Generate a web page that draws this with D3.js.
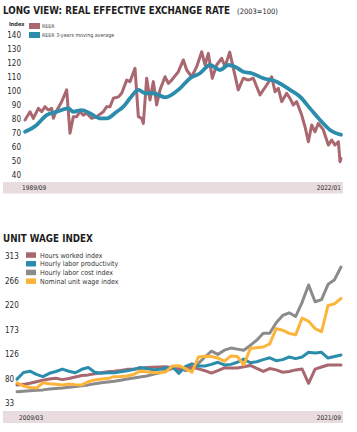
<!DOCTYPE html>
<html><head><meta charset="utf-8">
<script src="https://cdn.jsdelivr.net/npm/d3@7/dist/d3.min.js"></script>
<style>
html,body{margin:0;padding:0;background:#fff;}
svg{display:block;}
text{font-family:"Liberation Sans Narrow","DejaVu Sans Condensed","Roboto",sans-serif;}
</style></head>
<body>
<svg id="c" width="357" height="432"></svg>
<script>
// ---------- Top chart data ----------
const reerYears = [1989.77,1990.28,1990.62,1991.13,1991.47,1991.81,1992.15,1992.49,1992.66,1992.93,1993.51,1994.02,1994.36,1994.70,1995.04,1995.38,1995.72,1996.06,1996.57,1997.08,1997.76,1998.10,1998.44,1998.78,1999.29,1999.63,2000.14,2000.48,2000.99,2001.33,2001.67,2001.84,2002.18,2002.52,2002.86,2003.20,2003.54,2004.05,2004.39,2004.73,2005.41,2005.92,2006.26,2006.77,2007.28,2007.79,2008.13,2008.47,2008.87,2009.32,2009.83,2010.17,2010.65,2011.52,2012.03,2012.54,2013.06,2013.74,2014.42,2014.93,2015.27,2015.61,2015.95,2016.46,2016.80,2017.14,2017.48,2017.99,2018.33,2018.67,2019.01,2019.35,2019.69,2020.20,2020.71,2021.05,2021.39,2021.73,2021.90,2022.00];
const reerValues = [79.5,85.4,80.7,87.8,85.4,89,86.6,87.8,80.7,85.4,92.6,101,70,81.9,81.9,85.4,83,84.3,80.7,81.9,85.4,89,89,95,96,98.6,108,106.9,116.4,81.9,80.7,77,109.3,93.8,106.9,90.2,101,110.4,105.7,108,114,122.4,115.2,110.4,117.6,128.3,118.8,127.1,109.3,118.8,123.6,117.6,128,101,109.3,108,109.3,97.4,104.5,110.4,99.7,102.1,92.6,98.6,95,90.2,92.6,83,74.7,64,75.9,71.1,77.1,72.4,61.6,65.2,61.6,64,49.7,52];
const maYears = [1989.77,1990.96,1991.98,1993.00,1994.19,1994.70,1995.55,1996.40,1997.42,1998.10,1999.12,1999.80,2000.48,2001.33,2002.01,2002.86,2004.05,2005.58,2006.60,2007.62,2008.64,2009.66,2010.51,2011.19,2012.03,2012.89,2014.07,2015.44,2016.80,2017.82,2018.84,2019.86,2020.88,2021.73,2022.00];
const maValues = [71.1,76,83,85.4,87.8,85.4,86.6,84.3,80.7,80.7,85.4,89,95,101,98.6,98.6,95.7,102.1,109.3,112.9,118.8,115.2,118.8,117.6,114,112.9,109.3,106.9,101,96.1,87.8,79.5,72.4,69.5,69];
const topTicks = [40,50,60,70,80,90,100,110,120,130,140];
const topDateLabels = ["1989/09","2022/01"];

// ---------- Bottom chart data ----------
const quarters = d3.range(2009*4, 2021*4+3).map(q => Math.floor(q/4) + "Q" + (q%4+1));
const hoursWorked = [67.8,69,71,74,77,79,80.5,78,80,83,86,87,89,91,93,94,95.5,97.5,98,99,101,101.5,102,102.6,100,97,101,102,98.5,95,90.5,95,100.5,100,100,102.6,105,99.5,93.5,99,96.5,92,93.5,96.5,98,71,98,102,105.8,105.8,105.8];
const laborProductivity = [79,91.5,94,88,83.6,90,93.5,98,94,91,97.6,101,92,90,91,91.2,93,95,97,101,99,96.5,97.6,100,102,90,103,108,104,104,107,111,106,107,111,117,110,112,116,119.5,114,116,121,118,121,130,128.5,130,119,122,124.8];
const laborCost = [55,56,57,58,58.5,60,61,62,63.5,65,66.5,68,70,72,73.5,75,77,79,81,83,85,88,91,95,99,102.6,95,99,109,121,132,126,134,138,136,134,143,153,166,166,186,200,205,198,225,258,226,230,259,268,292];
const unitWage = [72,66,63,62,72,70,69,68,69.5,68.5,68,74,77.5,79,80,83.6,84,85,88,94,93,91.5,91.2,93,104,104.5,99,92,121,122.5,122,119,113,123,122,106,137,138.8,140,146,175,172,166,163,195,189,175,169,219,222,232.6];
const bottomTicks = [33,80,126,173,220,266,313];
const bottomDateLabels = ["2009/03","2021/09"];

const C = {mauve:"#a9676f", teal:"#2b8dab", grey:"#8b8b8b", orange:"#fdb43a", band:"#e9dcdf", text:"#2a2a2a"};

const svg = d3.select("#c");

// fit a text's font size so that its natural width equals w
function fitText(sel, w, base){
  sel.attr("font-size", base);
  const len = sel.node().getComputedTextLength();
  if (len > 0) sel.attr("font-size", (base * w / len).toFixed(2));
  return sel;
}

// ===== TOP CHART =====
fitText(svg.append("text").attr("x",3).attr("y",13.5)
  .attr("font-weight","bold").attr("fill","#1e1e1e")
  .text("LONG VIEW: REAL EFFECTIVE EXCHANGE RATE"), 227, 11);
fitText(svg.append("text").attr("x",237).attr("y",13.5)
  .attr("fill","#1e1e1e")
  .text("(2003=100)"), 41, 9);

const xTop = d3.scaleLinear().domain([1989.667, 2022.0]).range([24, 341]);
const yTop = d3.scaleLinear().domain([40,140]).range([175.3, 35.3]);

// y axis
const gTopAxis = svg.append("g").attr("transform","translate(21,0)")
  .call(d3.axisLeft(yTop).tickValues(topTicks).tickSize(0).tickPadding(0).tickFormat(d3.format("d")));
gTopAxis.select(".domain").remove();
gTopAxis.selectAll("text").attr("font-size",8).attr("fill",C.text)
  .attr("font-family",'"Liberation Sans Narrow","DejaVu Sans Condensed",sans-serif');

// legend top
svg.append("text").attr("x",9).attr("y",26).attr("font-size",5.5).attr("font-weight","bold").attr("fill",C.text).text("Index");
const topLegend = [{c:C.mauve,t:"REER"},{c:C.teal,t:"REER 3-years moving average"}];
topLegend.forEach((d,i)=>{
  svg.append("rect").attr("x",29).attr("y",23+i*9).attr("width",11).attr("height",6).attr("fill",d.c);
  svg.append("text").attr("x",42).attr("y",28+i*9).attr("font-size",5.3).attr("fill","#444").text(d.t);
});

// band
svg.append("rect").attr("x",3).attr("y",182).attr("width",340).attr("height",11.5).attr("fill",C.band);
svg.append("text").attr("x",22).attr("y",190.3).attr("font-size",6.5).attr("fill",C.text).text(topDateLabels[0]);
svg.append("text").attr("x",341).attr("y",190.3).attr("text-anchor","end").attr("font-size",6.5).attr("fill",C.text).text(topDateLabels[1]);

const lineTop = d3.line().x(d=>xTop(d[0])).y(d=>yTop(d[1])).curve(d3.curveLinear);
svg.append("path").datum(reerYears.map((t,i)=>[t,reerValues[i]]))
  .attr("d",lineTop).attr("fill","none").attr("stroke",C.mauve).attr("stroke-width",3)
  .attr("stroke-linejoin","round").attr("stroke-linecap","round");
svg.append("path").datum(maYears.map((t,i)=>[t,maValues[i]]))
  .attr("d",lineTop.curve(d3.curveMonotoneX)).attr("fill","none").attr("stroke",C.teal).attr("stroke-width",3.8)
  .attr("stroke-linejoin","round").attr("stroke-linecap","round");

// ===== BOTTOM CHART =====
fitText(svg.append("text").attr("x",3).attr("y",242).attr("font-weight","bold").attr("fill","#1e1e1e")
  .text("UNIT WAGE INDEX"), 90, 11.5);

const xBot = d3.scalePoint().domain(quarters).range([17, 341]);
const yBot = d3.scaleLinear().domain([33,313]).range([403.3, 256]);

const gBotAxis = svg.append("g").attr("transform","translate(5,0)")
  .call(d3.axisLeft(yBot).tickValues(bottomTicks).tickSize(0).tickPadding(0).tickFormat(d3.format("d")));
gBotAxis.select(".domain").remove();
gBotAxis.selectAll("text").attr("text-anchor","start").attr("font-size",8).attr("fill",C.text)
  .attr("font-family",'"Liberation Sans Narrow","DejaVu Sans Condensed",sans-serif');

const botLegend = [{c:C.mauve,t:"Hours worked index"},{c:C.teal,t:"Hourly labor productivity"},{c:C.grey,t:"Hourly labor cost index"},{c:C.orange,t:"Nominal unit wage index"}];
botLegend.forEach((d,i)=>{
  svg.append("rect").attr("x",26).attr("y",252.3+i*8.7).attr("width",10).attr("height",5.5).attr("fill",d.c);
  svg.append("text").attr("x",40).attr("y",257.5+i*8.7).attr("font-size",7).attr("fill","#333").text(d.t);
});

svg.append("rect").attr("x",3).attr("y",411).attr("width",340).attr("height",12).attr("fill",C.band);
svg.append("text").attr("x",19).attr("y",419.5).attr("font-size",6.5).attr("fill",C.text).text(bottomDateLabels[0]);
svg.append("text").attr("x",341).attr("y",419.5).attr("text-anchor","end").attr("font-size",6.5).attr("fill",C.text).text(bottomDateLabels[1]);

const lineBot = d3.line().x((d,i)=>xBot(quarters[i])).y(d=>yBot(d));
const series = [
  {v:laborCost,c:C.grey},
  {v:hoursWorked,c:C.mauve},
  {v:laborProductivity,c:C.teal},
  {v:unitWage,c:C.orange}
];
series.forEach(s=>{
  svg.append("path").datum(s.v).attr("d",lineBot).attr("fill","none")
    .attr("stroke",s.c).attr("stroke-width",3).attr("stroke-linejoin","round").attr("stroke-linecap","round");
});
</script>
</body></html>
